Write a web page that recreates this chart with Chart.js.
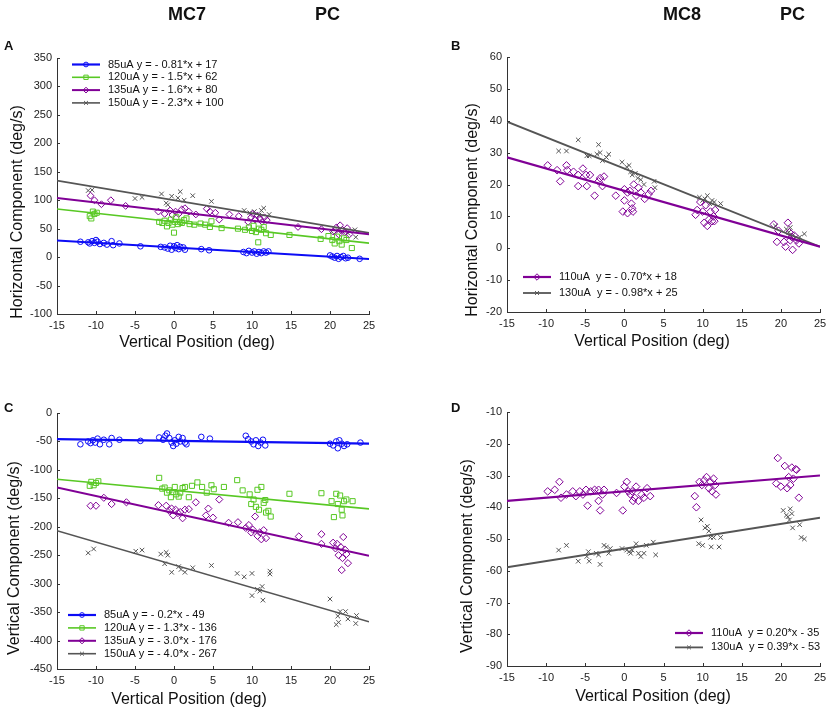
<!DOCTYPE html>
<html>
<head>
<meta charset="utf-8">
<script src="https://cdn.jsdelivr.net/npm/chart.js@4.4.1/dist/chart.umd.min.js"></script>
<style>
html, body { margin: 0; padding: 0; background: #fff; }
#wrap { position: relative; width: 832px; height: 712px; overflow: hidden; font-family: "Liberation Sans", Arial, sans-serif; }
#wrap canvas { position: absolute; left: 0; top: 0; }
.hd { position: absolute; font-weight: bold; font-size: 18px; line-height: 1; color: #111; }
.lt { position: absolute; font-weight: bold; font-size: 13px; line-height: 1; color: #111; }
</style>
</head>
<body>
<div id="wrap">
  <canvas id="cA" width="832" height="712"></canvas>
  <canvas id="cB" width="832" height="712"></canvas>
  <canvas id="cC" width="832" height="712"></canvas>
  <canvas id="cD" width="832" height="712"></canvas>
  <div class="hd" style="left:168px;top:5px">MC7</div>
  <div class="hd" style="left:315px;top:5px">PC</div>
  <div class="hd" style="left:663px;top:5px">MC8</div>
  <div class="hd" style="left:780px;top:5px">PC</div>
  <div class="lt" style="left:4px;top:39px">A</div>
  <div class="lt" style="left:451px;top:39px">B</div>
  <div class="lt" style="left:4px;top:401px">C</div>
  <div class="lt" style="left:451px;top:401px">D</div>
</div>
<script>
// shared x axis
const xTicks = [-15, -10, -5, 0, 5, 10, 15, 20, 25];
const fitX = [-15, 25];

// ---- panel A: horizontal component, MC7
const aYTicks = [-100, -50, 0, 50, 100, 150, 200, 250, 300, 350];
const aLabels = ['85uA y = - 0.81*x + 17', '120uA y = - 1.5*x + 62', '135uA y = - 1.6*x + 80', '150uA y = - 2.3*x + 100'];
const aFit85 = [29.2, -3.3];
const aFit120 = [84.5, 24.5];
const aFit135 = [104, 40];
const aFit150 = [134.5, 42.5];
const a85 = [[-12,27],[-11,26],[-10.8,24],[-10.5,28],[-10.2,25],[-10,30],[-9.8,27],[-9.5,23],[-9,25],[-8.6,22],[-8,28],[-7.8,21],[-7,24],
  [-4.3,19],[-1.7,18],[-1.2,17],[-0.8,15],[-0.5,20],[-0.3,13],[0,19],[0.2,16],[0.4,21],[0.6,14],[0.8,18],[1.2,17],[1.4,13],[3.5,14],[4.5,12],
  [8.9,9],[9.3,7],[9.6,11],[10,8],[10.3,10],[10.6,6],[10.9,9],[11.2,7],[11.5,10],[11.8,8],[12.1,10],
  [20,3],[20.3,1],[20.6,-1],[20.9,2],[21.1,-3],[21.4,0],[21.7,2],[22,-2],[22.3,-1],[23.8,-3]];
const a120 = [[-10.8,72],[-10.6,68],[-10.4,80],[-10.2,76],[-9.9,78],
  [-1.9,62],[-1.5,60],[-1.2,64],[-0.9,54],[-0.7,60],[-0.4,66],[-0.2,57],[0,43],[0.1,62],[0.3,70],[0.5,58],[0.8,62],[1,60],[1.3,65],[1.6,68],
  [2,58],[2.6,57],[3.4,59],[4,57],[4.6,53],[4.8,63],[6.1,51],
  [8.2,50],[9.1,48],[9.6,52],[10,46],[10.2,55],[10.5,44],[10.8,26],[10.9,50],[11.2,48],[11.5,53],[11.8,42],[12.4,39],[14.8,39],
  [18.8,32],[19.8,37],[20.3,30],[20.6,24],[20.9,36],[21.2,28],[21.5,22],[21.8,33],[22.1,30],[22.8,16]];
const a135 = [[-10.7,108],[-10.2,100],[-9.3,93],[-8.1,100],[-6.2,90],[-2,80],[-1.2,76],[-0.5,82],[-0.2,74],[0.2,80],[0.6,76],[1,84],[1.4,86],
  [1.9,80],[2.8,75],[4.2,85],[4.6,80],[5.3,78],[5.8,66],[7.1,75],[8.3,72],[9.5,62],[9.9,70],[10.1,76],[10.4,66],[10.7,73],[11,68],[11.3,62],
  [11.6,70],[11.9,65],[15.9,53],[18.9,49],[20.4,45],[20.8,52],[21.1,40],[21.3,56],[21.6,48],[21.9,44],[22.2,51],[22.5,40]];
const a150 = [[-11,117],[-10.5,118],[-5,103],[-4.1,105],[-1.6,111],[-1,95],[-0.8,92],[-0.3,107],[0.5,104],[0.8,115],[1.3,100],[2.4,108],
  [4.8,98],[9,82],[9.7,78],[10.3,80],[10.9,74],[11.2,82],[11.5,86],[12.2,75],[20.2,45],[21,47],[21.6,45],[22.3,42],[23.2,48],[23.3,35]];

// ---- panel B: horizontal component, MC8
const bYTicks = [-20, -10, 0, 10, 20, 30, 40, 50, 60];
const bLabels = ['110uA  y = - 0.70*x + 18', '130uA  y = - 0.98*x + 25'];
const bFit110 = [28.5, 0.5];
const bFit130 = [39.7, 0.5];
const b110 = [[-9.8,26],[-8.6,24.5],[-8.2,21],[-7.4,26],[-7.3,24.5],[-6.5,24],[-5.9,23],[-5.9,19.5],[-5.3,25],[-4.9,23],[-4.8,19.5],
  [-4.4,23],[-3.8,16.5],[-3.3,21],[-3.1,22],[-2.8,19.5],[-2.6,22.5],[-1.1,16.5],[-0.2,11.5],[0,18.5],[0,15],[0.4,11],[0.4,17.5],
  [0.7,18],[0.9,14],[1,12.5],[1.1,11.5],[1.2,20],[1.5,16.5],[1.8,19],[2.1,17.5],[2.6,15.5],[3.1,17],[3.4,18],
  [9.1,10.5],[9.3,12],[9.7,14.5],[10,11.5],[10.2,8],[10.4,13.5],[10.6,7],[10.8,9],[11,11.5],[11.2,8.5],[11.4,10],[11.6,12],[11.5,8.5],
  [19.1,7.5],[19.5,2],[19.7,5.5],[20.4,2],[20.6,0.5],[20.9,8],[21.1,5],[21.2,2.5],[21.4,3.5],[21.5,-0.5],[21.7,4],[22,2.5],[22.3,1.5]];
const b130 = [[-8.4,30.5],[-7.4,30.5],[-5.9,34],[-4.8,29],[-4.5,29],[-3.5,29.5],[-3.3,32.5],[-3.1,30],[-2.8,27.5],[-2.3,28.5],[-2,29.5],
  [-0.3,27],[0.3,25.5],[0.6,26],[0.8,24],[1,23],[1.4,23.5],[1.7,22],[2.1,21.5],[2.5,20],[3.8,21],[3.9,19],
  [9.6,16],[10,15],[10.3,15.5],[10.6,16.5],[10.9,14],[11.2,15],[11.5,14.5],[12.3,14],
  [19.3,7],[20.7,6],[21,5],[21.2,6.5],[21.5,4],[22.4,3.5],[23,4.5]];

// ---- panel C: vertical component, MC7
const cYTicks = [-450, -400, -350, -300, -250, -200, -150, -100, -50, 0];
const cLabels = ['85uA y = - 0.2*x - 49', '120uA y = - 1.3*x - 136', '135uA y = - 3.0*x - 176', '150uA y = - 4.0*x - 267'];
const cFit85 = [-46, -54];
const cFit120 = [-116.5, -168.5];
const cFit135 = [-131, -251];
const cFit150 = [-207, -367];
const c85 = [[-12,-55],[-11,-50],[-10.7,-53],[-10.4,-48],[-10.1,-52],[-9.8,-45],[-9.5,-55],[-9,-47],[-8.3,-55],[-8,-44],[-7,-47],[-4.3,-49],
  [-1.9,-43],[-1.4,-47],[-1.1,-40],[-0.9,-36],[-0.6,-44],[-0.3,-52],[-0.1,-58],[0.1,-48],[0.3,-54],[0.6,-42],[0.8,-50],[1.1,-44],[1.4,-52],
  [1.6,-55],[3.5,-42],[4.6,-45],[9.2,-40],[9.5,-46],[9.9,-50],[10.2,-55],[10.5,-48],[10.8,-58],[11.1,-52],[11.4,-47],[11.7,-57],
  [20,-54],[20.4,-57],[20.8,-50],[21,-62],[21.2,-48],[21.5,-54],[21.8,-58],[22.2,-55],[23.9,-52]];
const c120 = [[-10.8,-128],[-10.6,-121],[-10.3,-127],[-10,-123],[-9.7,-120],[-1.9,-114],[-1.5,-133],[-1.2,-131],[-0.9,-140],[-0.6,-136],
  [-0.4,-148],[-0.1,-139],[0.1,-130],[0.3,-143],[0.6,-147],[0.8,-140],[1.1,-132],[1.4,-130],[1.9,-148],[2.3,-128],[3,-122],[3.6,-130],
  [4.2,-140],[4.8,-127],[5.1,-134],[6.4,-130],[8.1,-118],[8.8,-136],[9.7,-143],[9.9,-160],[10.2,-152],[10.5,-165],[10.7,-135],[10.9,-170],
  [11.2,-130],[11.5,-158],[11.7,-153],[11.8,-175],[12.1,-172],[12.4,-182],[14.8,-142],[18.9,-141],[20.2,-155],[20.5,-183],[20.8,-142],
  [21,-160],[21.3,-145],[21.5,-170],[21.6,-180],[21.8,-155],[22.1,-152],[22.9,-155]];
const c135 = [[-10.7,-163],[-10,-163],[-9,-149],[-8,-160],[-6.1,-157],[-2,-162],[-1,-163],[-0.6,-172],[-0.3,-168],[-0.1,-180],[0.2,-170],
  [0.5,-176],[0.8,-174],[1.1,-185],[1.4,-170],[1.9,-169],[2.8,-157],[4.1,-180],[4.4,-168],[5,-184],[5.8,-152],[7,-193],[8.2,-192],
  [9.2,-202],[9.6,-197],[9.9,-210],[10.1,-205],[10.4,-182],[10.7,-216],[11,-210],[11.2,-222],[11.5,-206],[11.8,-220],[16,-217],
  [18.9,-213],[18.9,-230],[20.4,-228],[20.7,-238],[20.9,-230],[21.1,-250],[21.4,-236],[21.5,-276],[21.6,-255],[21.7,-218],[21.9,-240],
  [22.1,-248],[22.3,-264]];
const c150 = [[-11,-246],[-10.3,-239],[-4.9,-243],[-4.1,-241],[-1.7,-248],[-1.2,-265],[-1,-245],[-0.8,-250],[-0.3,-280],[0.6,-270],
  [0.9,-275],[1.4,-280],[2.4,-272],[4.8,-268],[8.1,-282],[9,-288],[10,-282],[10,-321],[10.7,-310],[11,-313],[11.3,-305],[11.4,-329],
  [12.3,-278],[12.3,-283],[20,-327],[20.8,-372],[21,-357],[21.1,-368],[21.3,-349],[22,-349],[22.3,-362],[23.3,-370],[23.4,-356]];

// ---- panel D: vertical component, MC8
const dYTicks = [-90, -80, -70, -60, -50, -40, -30, -20, -10];
const dLabels = ['110uA  y = 0.20*x - 35', '130uA  y = 0.39*x - 53'];
const dFit110 = [-38, -30];
const dFit130 = [-58.9, -43.3];
const d110 = [[-9.8,-35],[-8.9,-34.5],[-8.3,-32],[-8.1,-37],[-7.4,-36],[-6.6,-35],[-6.2,-36.5],[-5.7,-35],[-5.3,-36],[-4.9,-34.5],
  [-4.7,-39.5],[-4.3,-35],[-3.8,-34.5],[-3.3,-34.5],[-3.3,-38],[-3.1,-41],[-2.8,-36],[-2.6,-34.5],[-1,-35.5],[-0.2,-41],[0,-33.5],
  [0.3,-32],[0.5,-35],[0.8,-36],[1,-35],[1.1,-38],[1.3,-37],[1.5,-33.5],[1.8,-38],[2.2,-36],[2.5,-37],[2.9,-34],[3.3,-36.5],
  [9,-36.5],[9.2,-40],[9.6,-32],[9.9,-33],[10.2,-31.5],[10.5,-30.5],[10.8,-34],[11,-32],[11.2,-35],[11.4,-31],[11.6,-33],[11.7,-36],
  [19.4,-32.5],[19.6,-24.5],[20,-33.5],[20.5,-27],[20.8,-34],[21,-30.5],[21.2,-33],[21.4,-27.5],[21.6,-31],[21.9,-28],[22,-28.2],[22.3,-37]];
const d130 = [[-8.4,-53.5],[-7.4,-52],[-5.9,-57],[-4.8,-55.5],[-4.6,-54],[-4.5,-57],[-3.6,-54.5],[-3.3,-55],[-3.1,-58],[-2.6,-52],
  [-2.3,-52.5],[-2,-54.5],[-1.8,-53],[-0.3,-53],[0.3,-53.5],[0.6,-54],[0.8,-54.5],[1,-53.5],[1.5,-51.5],[1.8,-54.5],[2.1,-55.5],
  [2.5,-54.5],[2.8,-52],[3.7,-51],[4,-55],[9.5,-51.5],[9.8,-44],[10,-52],[10.3,-46.5],[10.6,-46],[10.8,-47.5],[11,-49.5],[11.1,-52.5],
  [11.4,-49.5],[12.1,-52.5],[12.3,-49.5],[20.3,-41],[20.7,-42.5],[20.9,-43],[21.1,-44],[21.2,-40.5],[21.4,-42],[21.5,-46.5],
  [22.4,-45.5],[22.6,-49.5],[23,-50]];

const FONT = '"Liberation Sans", Arial, sans-serif';
const BLUE = 'rgb(12,12,245)';
const GREEN = 'rgb(88,200,36)';
const PURPLE = 'rgb(128,0,150)';
const GRAY = 'rgb(85,85,85)';

function drawMarker(ctx, style, x, y, r) {
  ctx.beginPath();
  if (style === 'circle') {
    ctx.arc(x, y, r, 0, Math.PI * 2);
  } else if (style === 'rect') {
    const s = r * Math.SQRT1_2;
    ctx.rect(x - s, y - s, 2 * s, 2 * s);
  } else if (style === 'rectRot') {
    ctx.moveTo(x, y - r); ctx.lineTo(x + r, y); ctx.lineTo(x, y + r); ctx.lineTo(x - r, y); ctx.closePath();
  } else if (style === 'crossRot') {
    const s = r * Math.SQRT1_2;
    ctx.moveTo(x - s, y - s); ctx.lineTo(x + s, y + s);
    ctx.moveTo(x - s, y + s); ctx.lineTo(x + s, y - s);
  }
  ctx.stroke();
}

// inward ticks, axis titles and the line+marker legend
const deco = {
  id: 'deco',
  afterDraw(chart, args, o) {
    const ctx = chart.ctx;
    const area = chart.chartArea;
    const xs = chart.scales.x, ys = chart.scales.y;
    ctx.save();
    ctx.strokeStyle = '#333';
    ctx.lineWidth = 1;
    xs.ticks.forEach(t => {
      const px = Math.round(xs.getPixelForValue(t.value)) + 0.5;
      ctx.beginPath(); ctx.moveTo(px, area.bottom); ctx.lineTo(px, area.bottom - 3); ctx.stroke();
    });
    ys.ticks.forEach(t => {
      const py = Math.round(ys.getPixelForValue(t.value)) + 0.5;
      ctx.beginPath(); ctx.moveTo(area.left, py); ctx.lineTo(area.left + 3, py); ctx.stroke();
    });

    ctx.fillStyle = '#111';
    ctx.font = '16px ' + FONT;
    ctx.textAlign = 'center';
    ctx.textBaseline = 'middle';
    ctx.fillText(o.xTitle, o.xTitleX, o.xTitleY);
    ctx.save();
    ctx.translate(o.yTitleX, o.yTitleY);
    ctx.rotate(-Math.PI / 2);
    ctx.fillText(o.yTitle, 0, 0);
    ctx.restore();

    ctx.font = '11px ' + FONT;
    ctx.textAlign = 'left';
    const items = chart.data.datasets.filter(d => !d.isFit);
    items.forEach((d, i) => {
      const y = o.legY + i * o.legRow;
      ctx.strokeStyle = d.borderColor;
      ctx.lineWidth = d.fitWidth;
      ctx.beginPath(); ctx.moveTo(o.legX, y); ctx.lineTo(o.legX + 28, y); ctx.stroke();
      ctx.lineWidth = 1;
      drawMarker(ctx, d.pointStyle, o.legX + 14, y, d.pointRadius * 0.85);
      ctx.fillStyle = '#111';
      ctx.fillText(d.label, o.legX + 36, y);
    });
    ctx.restore();
  }
};
Chart.register(deco);

function series(label, points, fit, color, pointStyle, radius, lineWidth) {
  return [
    {
      label: label + ' fit', isFit: true, order: 0,
      data: fitX.map((x, i) => ({ x: x, y: fit[i] })),
      showLine: true, borderColor: color, borderWidth: lineWidth, pointRadius: 0
    },
    {
      label: label, order: 1, fitWidth: lineWidth,
      data: points.map(p => ({ x: p[0], y: p[1] })),
      showLine: false, pointStyle: pointStyle, pointRadius: radius,
      borderColor: color, backgroundColor: 'rgba(0,0,0,0)', pointBorderWidth: 1
    }
  ];
}

function makeChart(id, datasets, yTicks, box, decoOpts) {
  const tickFont = { family: FONT, size: 11 };
  return new Chart(document.getElementById(id), {
    type: 'scatter',
    data: { datasets: datasets },
    options: {
      responsive: false,
      animation: false,
      events: [],
      layout: { padding: { left: box.left - 40, top: box.top, right: 832 - box.right, bottom: 712 - box.bottom - 25 } },
      plugins: { legend: { display: false }, tooltip: { enabled: false }, deco: decoOpts },
      scales: {
        x: {
          type: 'linear', min: -15, max: 25,
          afterBuildTicks: s => { s.ticks = xTicks.map(v => ({ value: v })); },
          afterFit: s => { s.height = 25; },
          grid: { display: false, drawTicks: false },
          border: { display: true, color: '#333', width: 1 },
          ticks: { font: tickFont, color: '#222', padding: 5, maxRotation: 0, autoSkip: false }
        },
        y: {
          type: 'linear', min: yTicks[0], max: yTicks[yTicks.length - 1],
          afterBuildTicks: s => { s.ticks = yTicks.map(v => ({ value: v })); },
          afterFit: s => { s.width = 40; },
          grid: { display: false, drawTicks: false },
          border: { display: true, color: '#333', width: 1 },
          ticks: { font: tickFont, color: '#222', padding: 5 }
        }
      }
    }
  });
}

makeChart('cA', [].concat(
  series(aLabels[0], a85, aFit85, BLUE, 'circle', 2.8, 2.2),
  series(aLabels[1], a120, aFit120, GREEN, 'rect', 3.6, 1.6),
  series(aLabels[2], a135, aFit135, PURPLE, 'rectRot', 3.4, 2),
  series(aLabels[3], a150, aFit150, GRAY, 'crossRot', 3.2, 1.6)
), aYTicks, { left: 57, top: 58, right: 369, bottom: 314 }, {
  xTitle: 'Vertical Position (deg)', xTitleX: 197, xTitleY: 343,
  yTitle: 'Horizontal Component (deg/s)', yTitleX: 18, yTitleY: 212,
  legX: 72, legY: 64.5, legRow: 12.8
});

makeChart('cB', [].concat(
  series(bLabels[0], b110, bFit110, PURPLE, 'rectRot', 3.8, 2.2),
  series(bLabels[1], b130, bFit130, GRAY, 'crossRot', 3.2, 1.8)
), bYTicks, { left: 507, top: 57, right: 820, bottom: 312 }, {
  xTitle: 'Vertical Position (deg)', xTitleX: 652, xTitleY: 342,
  yTitle: 'Horizontal Component (deg/s)', yTitleX: 473, yTitleY: 210,
  legX: 523, legY: 277, legRow: 16
});

makeChart('cC', [].concat(
  series(cLabels[0], c85, cFit85, BLUE, 'circle', 2.8, 2.2),
  series(cLabels[1], c120, cFit120, GREEN, 'rect', 3.6, 1.6),
  series(cLabels[2], c135, cFit135, PURPLE, 'rectRot', 3.6, 2),
  series(cLabels[3], c150, cFit150, GRAY, 'crossRot', 3.2, 1.6)
), cYTicks, { left: 57, top: 413, right: 369, bottom: 669 }, {
  xTitle: 'Vertical Position (deg)', xTitleX: 189, xTitleY: 700,
  yTitle: 'Vertical Component (deg/s)', yTitleX: 15, yTitleY: 558,
  legX: 68, legY: 615, legRow: 12.9
});

makeChart('cD', [].concat(
  series(dLabels[0], d110, dFit110, PURPLE, 'rectRot', 3.8, 2.2),
  series(dLabels[1], d130, dFit130, GRAY, 'crossRot', 3.2, 1.8)
), dYTicks, { left: 507, top: 412, right: 820, bottom: 666 }, {
  xTitle: 'Vertical Position (deg)', xTitleX: 653, xTitleY: 697,
  yTitle: 'Vertical Component (deg/s)', yTitleX: 468, yTitleY: 556,
  legX: 675, legY: 633, legRow: 14.4
});
</script>
</body>
</html>
